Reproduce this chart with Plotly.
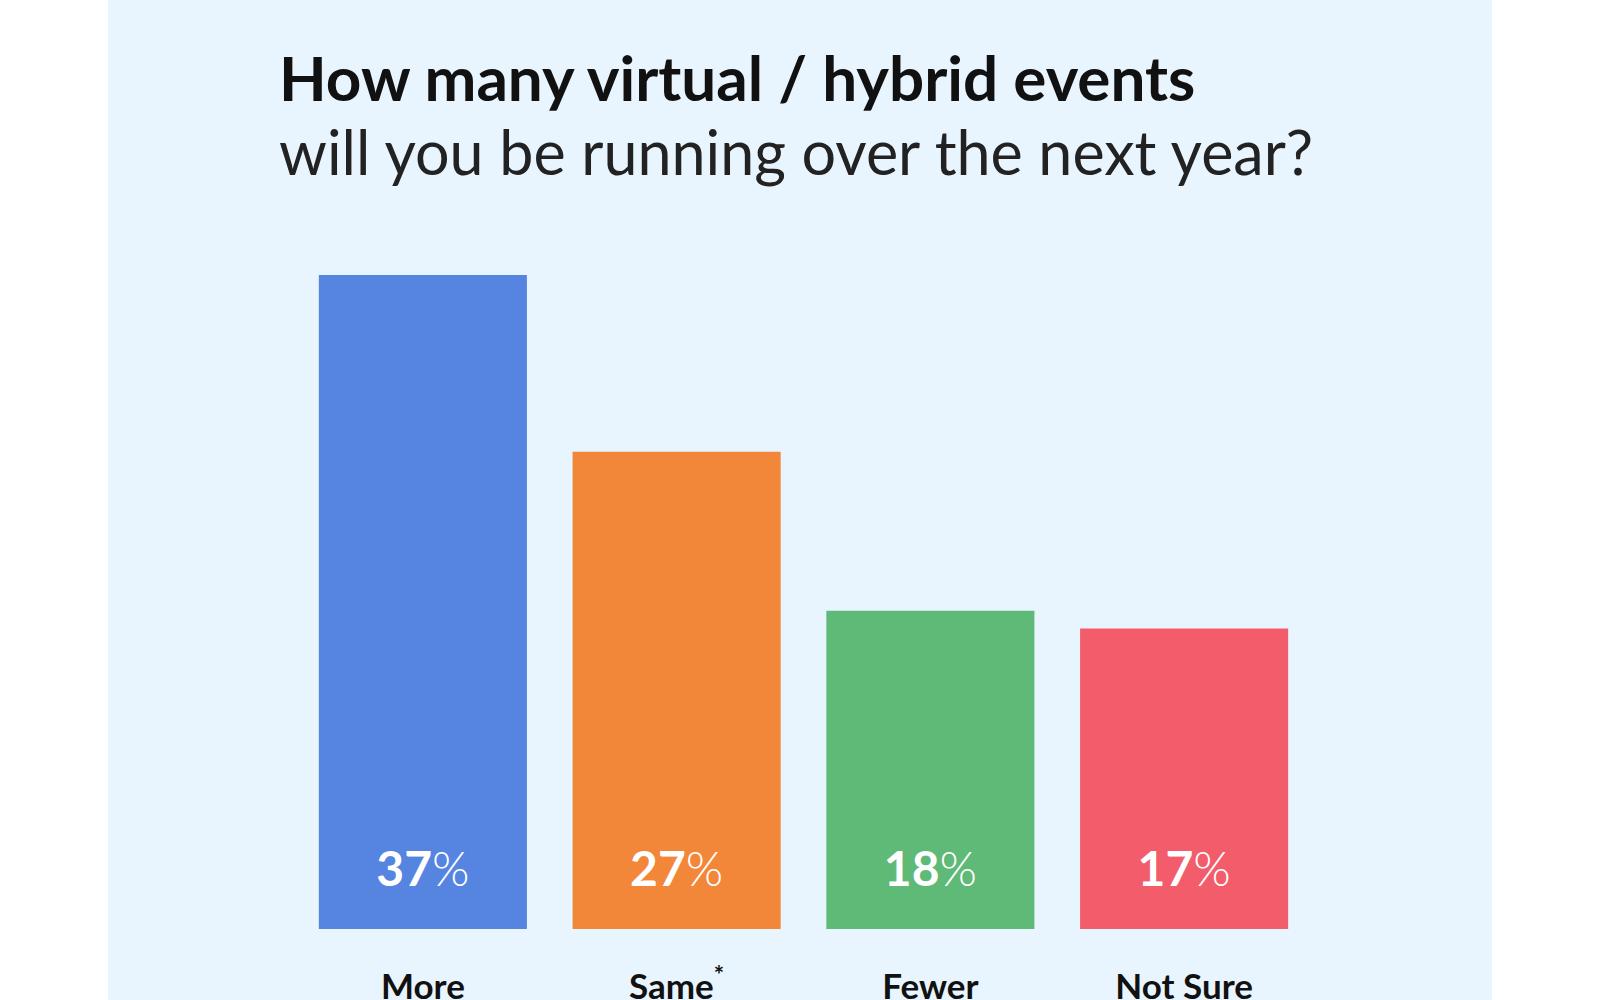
import plotly.graph_objects as go

# survey answers
categories = ["More", "Same<sup>*</sup>", "Fewer", "Not Sure"]
values = [37, 27, 18, 17]
bar_colors = ["#5585E1", "#F38739", "#5FB977", "#F25C6B"]

title_bold = "How many virtual / hybrid events"
title_rest = "will you be running over the next year?"

W, H = 1600, 1000
L, R, T, B = 296, 289, 222, 71
plot_w = W - L - R
plot_h = H - T - B


def px_x(px):
    return (px - L) / plot_w


def px_y(py):
    return (H - B - py) / plot_h


FONT = "Lato"
CARD = "#E8F5FE"

fig = go.Figure()

fig.add_trace(go.Bar(
    x=list(range(len(categories))),
    y=values,
    marker=dict(color=bar_colors, line=dict(width=0)),
    hoverinfo="skip",
))

# percent labels near the base of each bar (number bold, % light)
label_y = 3.1
fig.add_trace(go.Scatter(
    x=list(range(len(categories))),
    y=[label_y] * len(values),
    mode="text",
    text=["<b>%d</b>%%" % v for v in values],
    textposition="middle center",
    textfont=dict(family=FONT, size=48, color="white", weight=300),
    hoverinfo="skip",
))

# white strips either side of the light blue card
for x0, x1 in [(-10, 108), (1492, 1610)]:
    fig.add_shape(type="rect", xref="paper", yref="paper",
                  x0=px_x(x0), x1=px_x(x1), y0=px_y(1010), y1=px_y(-10),
                  fillcolor="white", line=dict(width=0), layer="below")

fig.add_annotation(text="<b>" + title_bold + "</b>", xref="paper", yref="paper",
                   x=px_x(277), y=px_y(116), xanchor="left", yanchor="bottom",
                   showarrow=False, font=dict(family=FONT, size=62, color="#111111"))
fig.add_annotation(text=title_rest, xref="paper", yref="paper",
                   x=px_x(277), y=px_y(190), xanchor="left", yanchor="bottom",
                   showarrow=False, font=dict(family=FONT, size=61, color="#222222"))

fig.update_layout(
    width=W, height=H,
    margin=dict(l=L, r=R, t=T, b=B, autoexpand=False),
    paper_bgcolor=CARD,
    plot_bgcolor="rgba(0,0,0,0)",
    showlegend=False,
    bargap=0.18,
    xaxis=dict(
        range=[-0.5, len(categories) - 0.5],
        tickmode="array",
        tickvals=list(range(len(categories))),
        ticktext=["<b>%s</b>" % c for c in categories],
        tickfont=dict(family=FONT, size=35, color="#111111"),
        showgrid=False, zeroline=False, showline=False, ticks="",
        ticklabelstandoff=34,
        automargin=False,
    ),
    yaxis=dict(range=[0, 40], visible=False, automargin=False),
)

fig.write_html("out.html", config={"displayModeBar": False},
               post_script="document.body.style.margin='0';document.body.style.overflow='hidden';")
